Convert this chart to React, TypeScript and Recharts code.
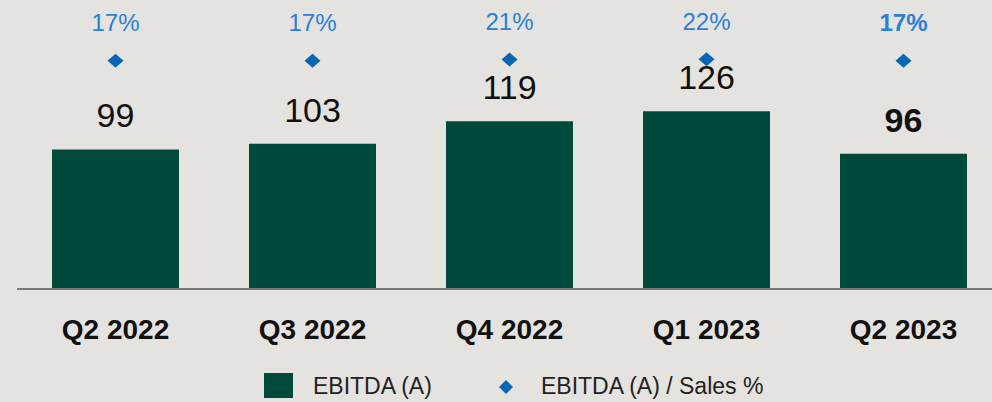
import { Bar, ComposedChart, LabelList, Legend, Line, XAxis, YAxis } from 'recharts';

const quarters = ['Q2 2022', 'Q3 2022', 'Q4 2022', 'Q1 2023', 'Q2 2023'];
const ebitda = [99, 103, 119, 126, 96];
const ebitdaPct = [17, 17, 21, 22, 17];

const data = quarters.map((quarter, i) => ({
  quarter,
  ebitda: ebitda[i],
  pct: ebitdaPct[i],
}));

const FONT = '"Liberation Sans", Arial, sans-serif';
const BG = '#e5e3df';
const GREEN = '#004a3c';
const BLUE = '#0866b4';
const LIGHT_BLUE = '#2a7fd6';
const lastIndex = quarters.length - 1;

function Diamond(props: any) {
  const { cx, cy } = props;
  if (cx == null || cy == null) return null;
  return (
    <path
      d={`M${cx},${cy - 7} L${cx + 8},${cy} L${cx},${cy + 7} L${cx - 8},${cy} Z`}
      fill={BLUE}
    />
  );
}

function ValueLabel(props: any) {
  const x = Number(props.x);
  const y = Number(props.y);
  const w = Number(props.width);
  return (
    <text
      x={x + w / 2}
      y={y - 34}
      textAnchor="middle"
      dominantBaseline="central"
      fontFamily={FONT}
      fontSize={34}
      fontWeight={props.index === lastIndex ? 700 : 400}
      fill="#111"
    >
      {props.value}
    </text>
  );
}

function PctLabel(props: any) {
  const x = Number(props.x);
  const y = Number(props.y);
  return (
    <text
      x={x}
      y={y - 38}
      textAnchor="middle"
      dominantBaseline="central"
      fontFamily={FONT}
      fontSize={24}
      fontWeight={props.index === lastIndex ? 700 : 400}
      fill={LIGHT_BLUE}
    >
      {props.value}%
    </text>
  );
}

function QuarterTick(props: any) {
  const { x, y, payload } = props;
  return (
    <text
      x={x}
      y={y + 32}
      textAnchor="middle"
      dominantBaseline="central"
      fontFamily={FONT}
      fontSize={28}
      fontWeight={700}
      fill="#111"
    >
      {payload.value}
    </text>
  );
}

function LegendBox() {
  const text = { position: 'absolute' as const, top: 15, fontFamily: FONT, fontSize: 23, color: '#222', lineHeight: '26px' };
  return (
    <div style={{ position: 'relative', height: 44, width: 992 }}>
      <div style={{ position: 'absolute', left: 264, top: 15, width: 29, height: 25, background: GREEN }} />
      <div style={{ ...text, left: 313 }}>EBITDA (A)</div>
      <svg style={{ position: 'absolute', left: 498, top: 22 }} width={16} height={14}>
        <path d="M8,0 L15,7 L8,14 L1,7 Z" fill={BLUE} />
      </svg>
      <div style={{ ...text, left: 541 }}>EBITDA (A) / Sales %</div>
    </div>
  );
}

export default function App() {
  return (
    <div
      style={{
        position: 'absolute',
        left: 0,
        top: 0,
        width: 992,
        height: 402,
        overflow: 'hidden',
        background: BG,
      }}
    >
      <ComposedChart
        width={1002}
        height={402}
        data={data}
        margin={{ top: 0, right: 0, left: 17, bottom: 0 }}
      >
        <XAxis
          dataKey="quarter"
          height={69}
          tickLine={false}
          axisLine={{ stroke: '#777', strokeWidth: 2 }}
          tick={<QuarterTick />}
          interval={0}
        />
        <YAxis yAxisId="val" hide domain={[0, 205]} />
        <YAxis yAxisId="pct" hide orientation="right" domain={[-773, 227]} />
        <Legend
          verticalAlign="bottom"
          content={<LegendBox />}
          wrapperStyle={{ left: 0, width: 992, bottom: 0 }}
        />
        <Bar yAxisId="val" dataKey="ebitda" fill={GREEN} barSize={127} isAnimationActive={false}>
          <LabelList dataKey="ebitda" content={<ValueLabel />} />
        </Bar>
        <Line
          yAxisId="pct"
          dataKey="pct"
          stroke="none"
          dot={<Diamond />}
          activeDot={false}
          isAnimationActive={false}
        >
          <LabelList dataKey="pct" content={<PctLabel />} />
        </Line>
      </ComposedChart>
    </div>
  );
}
